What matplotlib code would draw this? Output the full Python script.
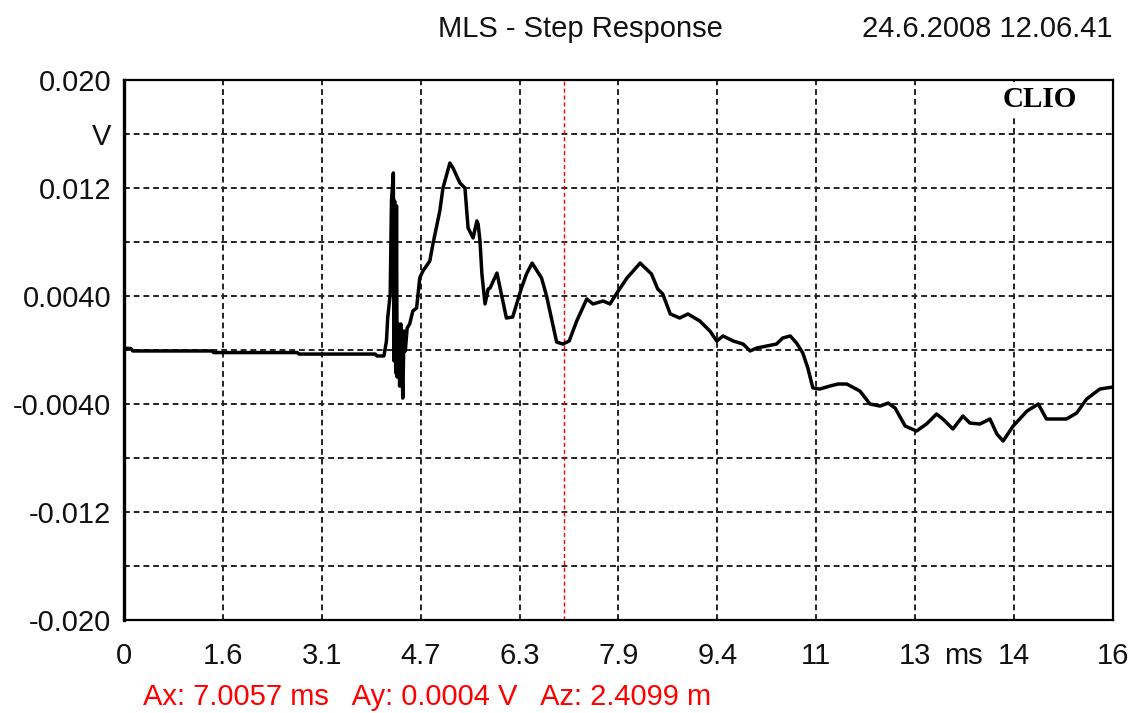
import matplotlib
matplotlib.use("Agg")
import matplotlib.pyplot as plt

plt.rcParams['font.family'] = ['Liberation Sans', 'DejaVu Sans']

# ==========================================
# Data
# ==========================================
time_ms = [
    0.00, 0.11, 0.14, 1.40, 1.43, 2.76, 2.79, 4.00, 4.03, 4.14,
    4.18, 4.20, 4.24, 4.26, 4.29, 4.30, 4.31, 4.33, 4.34, 4.35,
    4.37, 4.39, 4.41, 4.43, 4.44, 4.46, 4.48, 4.51, 4.55, 4.60,
    4.66, 4.71, 4.76, 4.87, 4.92, 5.03, 5.08, 5.19, 5.24, 5.35,
    5.43, 5.48, 5.56, 5.62, 5.64, 5.67, 5.70, 5.75, 5.80, 5.83,
    5.94, 5.99, 6.09, 6.19, 6.33, 6.41, 6.50, 6.65, 6.73, 6.89,
    6.99, 7.09, 7.21, 7.37, 7.47, 7.63, 7.74, 7.85, 8.01, 8.22,
    8.40, 8.50, 8.58, 8.70, 8.85, 8.98, 9.17, 9.33, 9.44, 9.54,
    9.70, 9.86, 9.97, 10.08, 10.24, 10.39, 10.49, 10.61, 10.71, 10.81,
    10.89, 10.97, 11.08, 11.24, 11.37, 11.51, 11.72, 11.88, 12.04, 12.17,
    12.28, 12.44, 12.62, 12.78, 12.94, 13.04, 13.20, 13.36, 13.47, 13.63,
    13.79, 13.90, 14.00, 14.16, 14.38, 14.56, 14.69, 14.85, 15.01, 15.17,
    15.33, 15.54, 15.75,
]
volts = [
    0.00013, 0.00011, -0.00007, -0.00007, -0.00019, -0.00019, -0.00030, -0.00030, -0.00044, -0.00044,
    0.00067, 0.00237, 0.00415, 0.01104, 0.01311, -0.00081, 0.01104, -0.00170, 0.01067, -0.00200,
    0.00193, -0.00267, 0.00193, -0.00156, -0.00356, 0.00141, -0.00007, 0.00163, 0.00193, 0.00289,
    0.00311, 0.00533, 0.00585, 0.00659, 0.00785, 0.01030, 0.01200, 0.01385, 0.01348, 0.01237,
    0.01200, 0.00904, 0.00830, 0.00956, 0.00933, 0.00807, 0.00563, 0.00341, 0.00452, 0.00459,
    0.00570, 0.00459, 0.00237, 0.00244, 0.00459, 0.00563, 0.00644, 0.00533, 0.00400, 0.00059,
    0.00044, 0.00067, 0.00215, 0.00378, 0.00341, 0.00363, 0.00341, 0.00422, 0.00533, 0.00644,
    0.00563, 0.00452, 0.00415, 0.00267, 0.00237, 0.00267, 0.00215, 0.00141, 0.00067, 0.00104,
    0.00067, 0.00044, -0.00007, 0.00015, 0.00030, 0.00044, 0.00089, 0.00104, 0.00052, -0.00022,
    -0.00133, -0.00281, -0.00289, -0.00267, -0.00252, -0.00252, -0.00304, -0.00400, -0.00415, -0.00393,
    -0.00430, -0.00563, -0.00600, -0.00548, -0.00474, -0.00511, -0.00585, -0.00489, -0.00541, -0.00548,
    -0.00511, -0.00622, -0.00674, -0.00563, -0.00452, -0.00400, -0.00511, -0.00511, -0.00511, -0.00467,
    -0.00363, -0.00289, -0.00274,
]

x_ticks = [0, 1.575, 3.15, 4.725, 6.3, 7.875, 9.45, 11.025, 12.6, 14.175, 15.75]
x_labels = ["0", "1.6", "3.1", "4.7", "6.3", "7.9", "9.4", "11", "13", "14", "16"]
y_ticks = [0.020, 0.016, 0.012, 0.008, 0.004, 0.0, -0.004, -0.008, -0.012, -0.016, -0.020]
y_labels = ["0.020", "V", "0.012", "", "0.0040", "", "-0.0040", "", "-0.012", "", "-0.020"]

cursor_x = 7.0057
cursor_text = "Ax: 7.0057 ms   Ay: 0.0004 V   Az: 2.4099 m"

# ==========================================
# Plot
# ==========================================
fig = plt.figure(figsize=(11.34, 7.13), dpi=100)
ax = fig.add_axes([0.1093, 0.1304, 0.8722, 0.7574])

ax.set_xlim(0, 15.75)
ax.set_ylim(-0.020, 0.020)
ax.set_xticks(x_ticks)
ax.set_xticklabels(x_labels)
# unit label sits between 13 and 14 like the original
ax.set_xticks([13.36], minor=True)
ax.set_xticklabels(["ms"], minor=True)
ax.set_yticks(y_ticks)
ax.set_yticklabels(y_labels)
ax.tick_params(axis='both', which='both', length=0, labelsize=21, colors='#111111')
ax.tick_params(axis='x', which='both', pad=16)
ax.tick_params(axis='y', pad=9)

ax.grid(True, which='major', color='#222222', linestyle=(0, (3, 2)), linewidth=1.4)
ax.set_axisbelow(True)

for s in ax.spines.values():
    s.set_linewidth(1.6)
    s.set_color('black')
ax.spines['left'].set_linewidth(2.4)

ax.axvline(cursor_x, color='red', linestyle=(0, (3, 2)), linewidth=1.0, zorder=2)
ax.plot(time_ms, volts, color='black', linewidth=2.5, zorder=3)

# CLIO logo
ax.text(0.926, 0.963, "CLIO", transform=ax.transAxes, ha='center', va='center',
        fontsize=21, fontweight='bold', family=['Liberation Serif', 'DejaVu Serif'],
        bbox=dict(facecolor='white', edgecolor='none', pad=3), zorder=5)

fig.text(0.512, 0.960, "MLS - Step Response", ha='center', va='center', fontsize=21, color='#111111')
fig.text(0.981, 0.960, "24.6.2008 12.06.41", ha='right', va='center', fontsize=21, color='#111111')
fig.text(0.126, 0.022, cursor_text, ha='left', va='center', fontsize=21, color='red')

fig.savefig('out.png', dpi=100)
